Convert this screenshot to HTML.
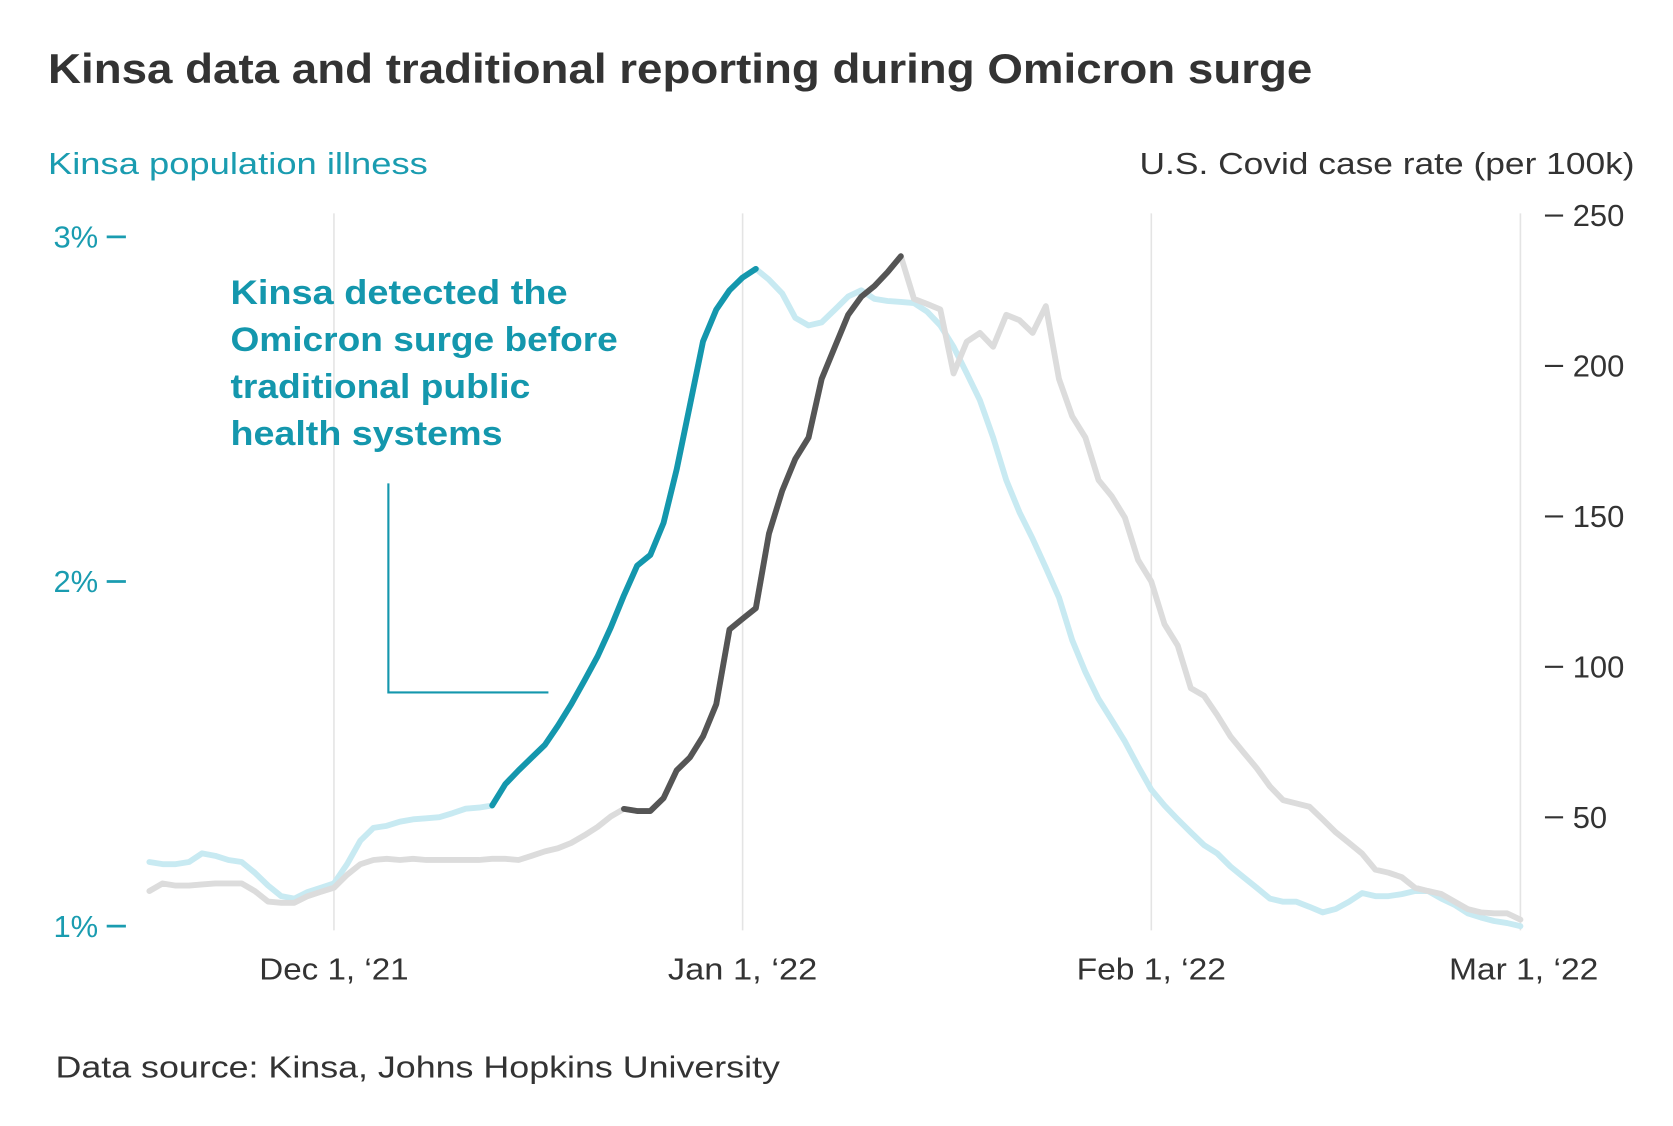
<!DOCTYPE html>
<html><head><meta charset="utf-8"><style>
html,body{margin:0;padding:0;background:#fff;}
svg{display:block;font-family:"Liberation Sans",sans-serif;}
</style></head><body>
<svg id="chart" width="1673" height="1126" viewBox="0 0 1568 1055.3" xmlns="http://www.w3.org/2000/svg">
<text x="45" y="78" font-size="39" font-weight="bold" fill="#333" textLength="1185" lengthAdjust="spacingAndGlyphs">Kinsa data and traditional reporting during Omicron surge</text>
<text x="45" y="163" font-size="29" fill="#1a9cb0" textLength="356" lengthAdjust="spacingAndGlyphs">Kinsa population illness</text>
<text x="1068" y="163" font-size="29" fill="#333" textLength="464" lengthAdjust="spacingAndGlyphs">U.S. Covid case rate (per 100k)</text>
<g id="grid"></g>
<g id="laxis"></g>
<g id="raxis"></g>
<g id="xaxis"></g>
<g id="series"></g>
<g fill="#1497ad" font-size="32" font-weight="bold">
<text x="216" y="285" textLength="316" lengthAdjust="spacingAndGlyphs">Kinsa detected the</text>
<text x="216" y="329" textLength="363" lengthAdjust="spacingAndGlyphs">Omicron surge before</text>
<text x="216" y="373" textLength="281" lengthAdjust="spacingAndGlyphs">traditional public</text>
<text x="216" y="417" textLength="255" lengthAdjust="spacingAndGlyphs">health systems</text>
<polyline points="364,453 364,649 514,649" fill="none" stroke="#1497ad" stroke-width="2"/>
</g>
<text x="52" y="1010" font-size="29" fill="#333" textLength="679" lengthAdjust="spacingAndGlyphs">Data source: Kinsa, Johns Hopkins University</text>
</svg>
<script>
const kinsa=[1.186,1.180,1.180,1.186,1.211,1.204,1.192,1.186,1.155,1.118,1.087,1.080,1.099,1.111,1.124,1.180,1.248,1.285,1.291,1.303,1.310,1.313,1.316,1.328,1.341,1.344,1.350,1.412,1.452,1.489,1.526,1.582,1.644,1.712,1.783,1.867,1.960,2.046,2.077,2.170,2.325,2.511,2.697,2.789,2.845,2.882,2.907,2.876,2.836,2.765,2.743,2.752,2.789,2.827,2.845,2.820,2.814,2.811,2.808,2.783,2.743,2.681,2.604,2.526,2.418,2.294,2.201,2.124,2.040,1.954,1.830,1.737,1.659,1.598,1.536,1.464,1.396,1.350,1.310,1.272,1.235,1.211,1.173,1.142,1.111,1.080,1.071,1.071,1.056,1.040,1.050,1.071,1.096,1.087,1.087,1.093,1.102,1.102,1.080,1.062,1.037,1.025,1.015,1.009,1.000];
const cases=[25.5,28.0,27.3,27.3,27.7,28.0,28.0,28.0,25.5,22.0,21.6,21.6,23.8,25.2,26.6,30.9,34.4,35.8,36.2,35.8,36.2,35.8,35.8,35.8,35.8,35.8,36.2,36.2,35.8,37.2,38.7,39.7,41.5,44.0,46.8,50.3,52.8,52.1,52.1,56.4,65.6,69.9,76.9,87.6,112.4,116.0,119.5,144.3,158.5,169.1,176.2,195.7,206.4,217.0,223.0,226.6,231.2,236.5,222.3,220.6,218.8,197.5,208.1,211.0,206.4,217.0,215.2,211.0,219.9,195.7,183.3,176.2,162.1,156.7,149.6,135.5,128.4,114.2,107.1,92.9,90.4,84.0,76.9,71.6,66.3,60.3,55.7,54.6,53.5,49.3,45.0,41.5,37.9,32.6,31.6,30.1,26.6,25.5,24.5,22.0,19.5,18.4,18.1,18.1,16.0];
const kinsaHighlight=[26,46];
const casesHighlight=[36,57];
const leftTicks=[1,2,3];
const leftTickLabels=["1%","2%","3%"];
const rightTicks=[50,100,150,200,250];
const xTickDays=[14,45,76,104];
const xTickLabels=["Dec 1, \u201821","Jan 1, \u201822","Feb 1, \u201822","Mar 1, \u201822"];
const NS="http://www.w3.org/2000/svg";
const xS=d=>140+d*(1425-140)/104;
const yL=v=>868-(v-1)*323;
const yR=v=>907-v*141/50;
function mk(tag,attrs,parent){const e=document.createElementNS(NS,tag);for(const k in attrs)e.setAttribute(k,attrs[k]);parent.appendChild(e);return e;}
const grid=document.getElementById('grid');
xTickDays.forEach((d,i)=>{
 const l=mk('line',{x1:xS(d),x2:xS(d),y1:200,y2:872,stroke:'#e4e4e4','stroke-width':1.5},grid);
 
 
 const t=mk('text',{x:xS(d)+(i==3?3:0)-70,y:918,'font-size':29,fill:'#333',textLength:140,lengthAdjust:'spacingAndGlyphs'},document.getElementById('xaxis'));
 t.textContent=xTickLabels[i];
 
 
});
const la=document.getElementById('laxis');
leftTicks.forEach((v,i)=>{
 const t=mk('text',{x:92,y:yL(v)+10,'font-size':29,fill:'#1a9cb0','text-anchor':'end'},la);
 t.textContent=leftTickLabels[i];
 
 
 const l=mk('line',{x1:100,x2:118,y1:yL(v),y2:yL(v),stroke:'#1a9cb0','stroke-width':2.5},la);
 
 
});
const ra=document.getElementById('raxis');
rightTicks.forEach(v=>{
 const t=mk('text',{x:1474,y:yR(v)+10,'font-size':29,fill:'#333'},ra);
 t.textContent=String(v);
 
 
 const l=mk('line',{x1:1448,x2:1465,y1:yR(v),y2:yR(v),stroke:'#333','stroke-width':2},ra);
 
 
});
const sg=document.getElementById('series');
function line(arr,yf,a,b,color,name){
 const pts=[];for(let i=a;i<=b;i++)pts.push(xS(i).toFixed(1)+','+yf(arr[i]).toFixed(1));
 const p=mk('polyline',{points:pts.join(' '),fill:'none',stroke:color,'stroke-width':5.5,'stroke-linejoin':'round','stroke-linecap':'round'},sg);
 
 
}
line(kinsa,yL,0,kinsa.length-1,'#c8eaf2','kinsa-illness-line');
line(cases,yR,0,cases.length-1,'#dcdcdc','covid-case-rate-line');
line(kinsa,yL,kinsaHighlight[0],kinsaHighlight[1],'#1497ad','kinsa-highlight-line');
line(cases,yR,casesHighlight[0],casesHighlight[1],'#555555','case-rate-highlight-line');
</script>
</body></html>
